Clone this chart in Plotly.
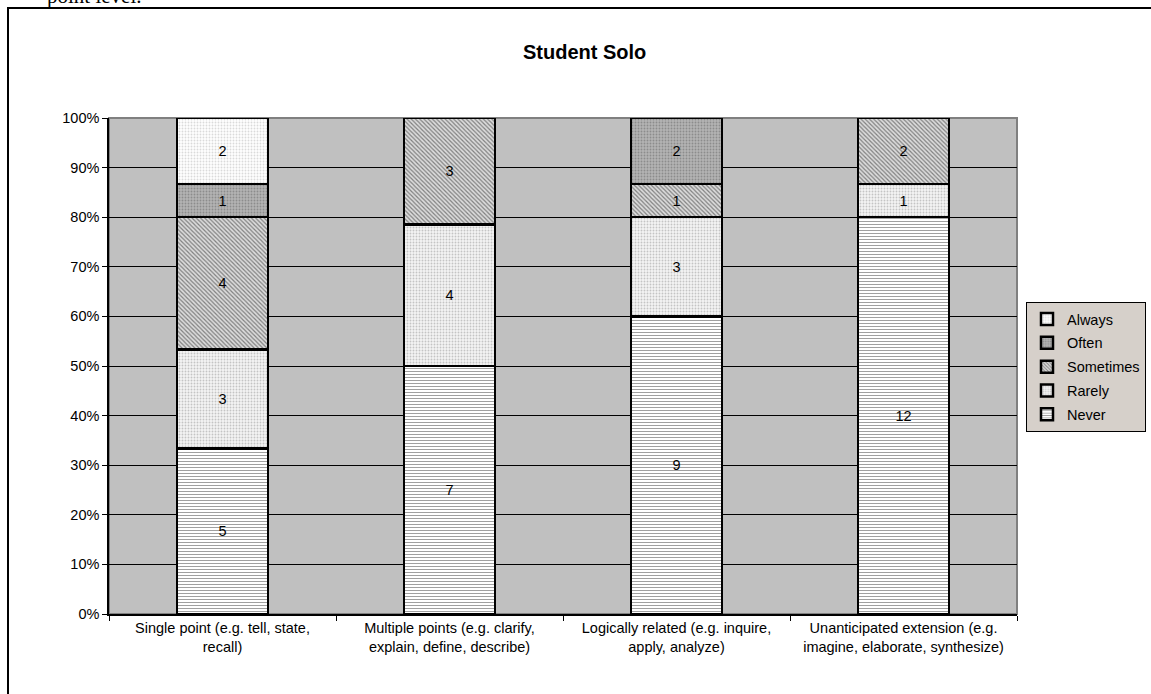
import plotly.graph_objects as go

categories = [
    "Single point (e.g. tell, state,<br>recall)",
    "Multiple points (e.g. clarify,<br>explain, define, describe)",
    "Logically related (e.g. inquire,<br>apply, analyze)",
    "Unanticipated extension (e.g.<br>imagine, elaborate, synthesize)",
]
series_names = ["Never", "Rarely", "Sometimes", "Often", "Always"]
never = [5, 7, 9, 12]
rarely = [3, 4, 3, 1]
sometimes = [4, 3, 1, 2]
often = [1, 0, 2, 0]
always = [2, 0, 0, 0]
values = [never, rarely, sometimes, often, always]
y_ticks = list(range(0, 101, 10))
y_ticktext = [f"{v}%" for v in y_ticks]

styles = {
    "Never": dict(shape="-", bgcolor="#FFFFFF", fgcolor="#A0A0A0", size=3, solidity=0.35),
    "Rarely": dict(shape=".", bgcolor="#F4F4F4", fgcolor="#C4C4C4", size=3, solidity=0.3),
    "Sometimes": dict(shape="\\", bgcolor="#DCDCDC", fgcolor="#808080", size=3, solidity=0.4),
    "Often": dict(shape=".", bgcolor="#B4B4B4", fgcolor="#8C8C8C", size=3, solidity=0.3),
    "Always": dict(shape=".", bgcolor="#FFFFFF", fgcolor="#DADADA", size=3, solidity=0.3),
}

FONT = "Arial, 'Liberation Sans', sans-serif"

fig = go.Figure()
n = len(series_names)
for i, (name, vals) in enumerate(zip(series_names, values)):
    st = styles[name]
    fig.add_trace(go.Bar(
        name=name,
        legendgroup=name,
        legendrank=n - i,
        x=categories,
        y=[v if v > 0 else None for v in vals],
        text=[str(v) if v > 0 else "" for v in vals],
        textposition="inside",
        insidetextanchor="middle",
        textangle=0,
        textfont=dict(family=FONT, size=14.5, color="#000000"),
        marker=dict(
            color=st["bgcolor"],
            line=dict(color="#000000", width=2.5),
            pattern=dict(shape=st["shape"], bgcolor=st["bgcolor"], fgcolor=st["fgcolor"],
                         size=st["size"], solidity=st["solidity"], fillmode="replace"),
        ),
    ))

L, R, T, B = 109, 134, 118, 80
W, H = 1151, 694
pw, ph = W - L - R, H - T - B

def px_x(x):
    return (x - L) / pw

def px_y(y):
    return (H - B - y) / ph

fig.update_layout(
    width=W, height=H,
    margin=dict(l=L, r=R, t=T, b=B, pad=0, autoexpand=False),
    barmode="stack",
    barnorm="percent",
    bargap=0.6,
    plot_bgcolor="#C0C0C0",
    paper_bgcolor="#FFFFFF",
    font=dict(family=FONT, size=14.5, color="#000000"),
    showlegend=True,
    legend=dict(
        traceorder="grouped",
        tracegroupgap=2,
        x=px_x(1026), xanchor="left",
        y=px_y(302), yanchor="top",
        bgcolor="#D6D0CA",
        bordercolor="#000000", borderwidth=1,
        font=dict(family=FONT, size=14.5, color="#000000"),
    ),
    xaxis=dict(
        type="category",
        showgrid=False,
        showline=True, linecolor="#000000", linewidth=1.5,
        ticks="outside", tickson="boundaries", ticklen=5, tickcolor="#000000",
        tickfont=dict(family=FONT, size=14.5, color="#000000"),
    ),
    yaxis=dict(
        range=[0, 100],
        tickmode="array",
        tickvals=y_ticks,
        ticktext=y_ticktext,
        showgrid=True, gridcolor="#000000", gridwidth=1,
        zeroline=False,
        showline=True, linecolor="#000000", linewidth=1.5,
        ticks="outside", ticklen=5, tickcolor="#000000",
        tickfont=dict(family=FONT, size=14.5, color="#000000"),
    ),
    shapes=[
        dict(type="rect", xref="paper", yref="paper", x0=0, x1=1, y0=0, y1=1,
             line=dict(color="#808080", width=2), layer="below"),
        dict(type="rect", xref="paper", yref="paper",
             x0=px_x(8), x1=px_x(1165), y0=px_y(710), y1=px_y(8),
             line=dict(color="#000000", width=2), fillcolor="rgba(0,0,0,0)", layer="above"),
    ],
    annotations=[
        dict(text="<b>Student Solo</b>", xref="paper", yref="paper",
             x=px_x(584), y=px_y(52), xanchor="center", yanchor="middle",
             showarrow=False, font=dict(family=FONT, size=20, color="#000000")),
        dict(text="point level.", xref="paper", yref="paper",
             x=px_x(45), y=px_y(-4), xanchor="left", yanchor="middle",
             showarrow=False, font=dict(family="'Liberation Serif', 'Times New Roman', serif",
                                        size=21, color="#000000")),
    ],
)

fig.write_html("out.html")
